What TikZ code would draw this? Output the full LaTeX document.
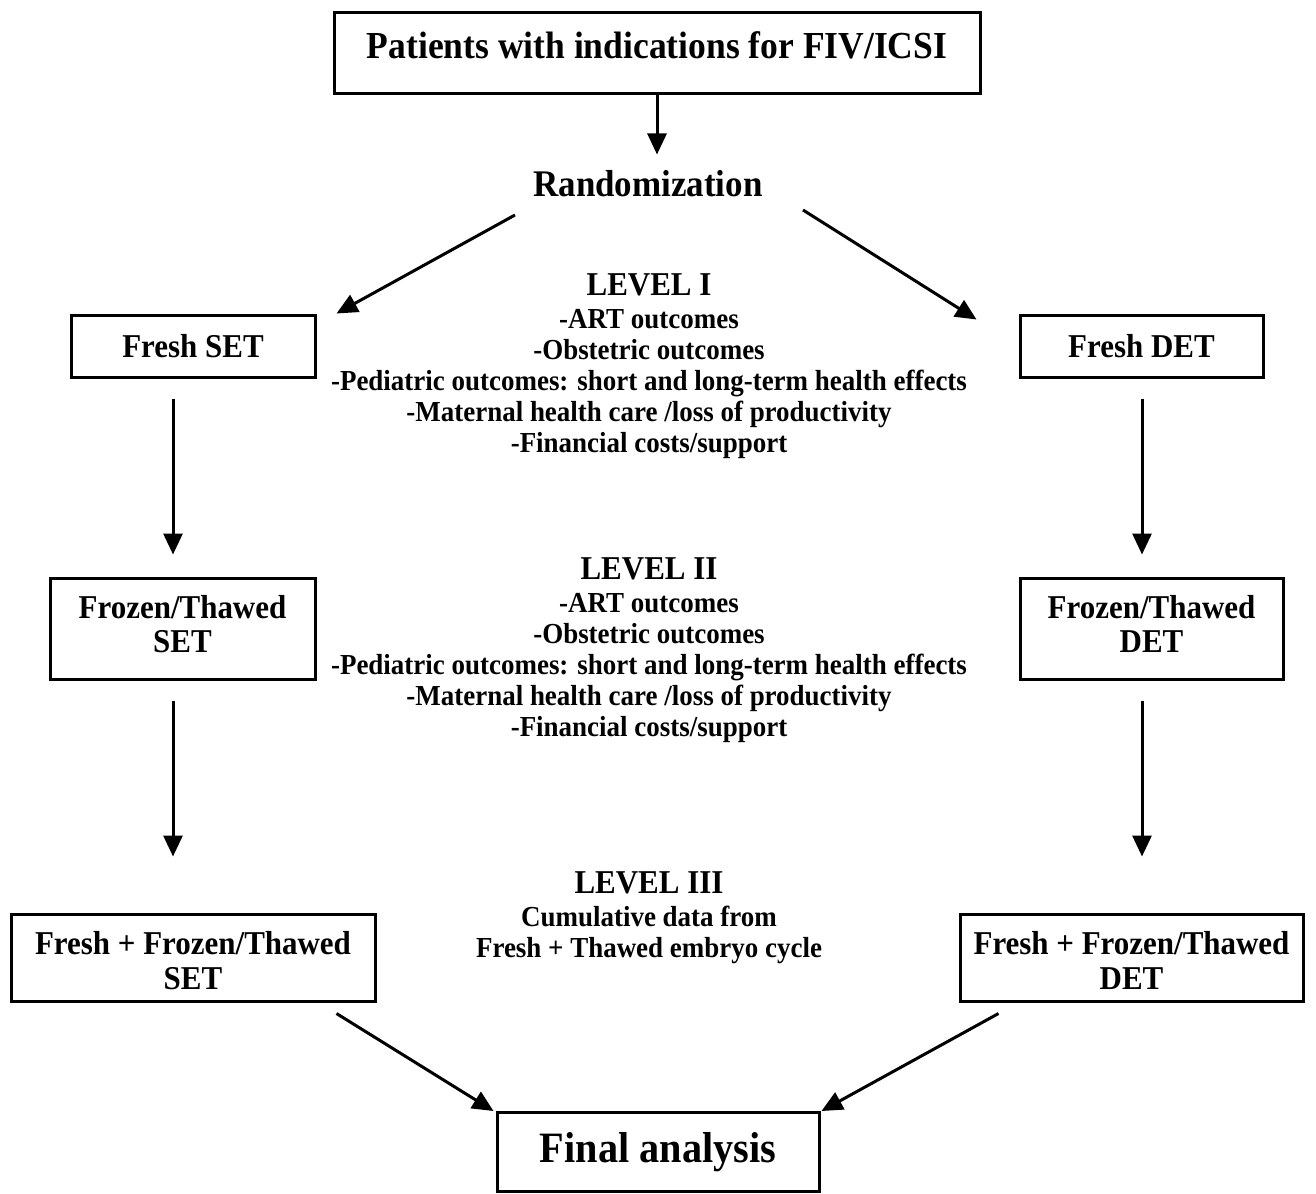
\documentclass[tikz,border=0pt]{standalone}
\usepackage{fontspec}
\setmainfont{Liberation Serif}[FakeStretch=0.93]
\usetikzlibrary{arrows.meta}
\tikzset{
  box/.style={draw=black, line width=3pt, rectangle, inner sep=0pt, align=center, font=\fontsize{33.3}{35}\selectfont\bfseries},
  txt/.style={inner sep=0pt, align=center},
  arr/.style={line width=3pt, -{Triangle[length=21pt,width=19pt]}},
}
\begin{document}
\begin{tikzpicture}[x=1pt,y=-1pt]
\useasboundingbox[fill=white] (0,0) rectangle (1316,1193);

\node[box, minimum width=646, minimum height=81] (top) at (657,53.5) {};
\node[txt, font=\fontsize{38.2}{40}\selectfont\bfseries] (toptxt) at (657,45) {Patients with indications for FIV/ICSI};
\node[txt, font=\fontsize{37.6}{40}\selectfont\bfseries] (rand) at (648,184) {Randomization};

\node[box, minimum width=244, minimum height=62] (fset) at (193,346) {Fresh SET};
\node[box, minimum width=243, minimum height=62] (fdet) at (1141.5,346) {Fresh DET};
\node[box, minimum width=265, minimum height=101] (ftset) at (182.5,628.5) {\begin{tabular}{@{}c@{}}Frozen/Thawed\\[-1pt]SET\end{tabular}};
\node[box, minimum width=263, minimum height=101] (ftdet) at (1151.5,628.5) {\begin{tabular}{@{}c@{}}Frozen/Thawed\\[-1pt]DET\end{tabular}};
\node[box, minimum width=364, minimum height=87] (ffset) at (193,957.5) {\raisebox{-7pt}[\height][\depth]{\begin{tabular}{@{}c@{}}Fresh + Frozen/Thawed\\SET\end{tabular}}};
\node[box, minimum width=343, minimum height=87] (ffdet) at (1131.5,957.5) {\raisebox{-7pt}[\height][\depth]{\begin{tabular}{@{}c@{}}Fresh + Frozen/Thawed\\DET\end{tabular}}};
\node[box, minimum width=322, minimum height=79, font=\fontsize{43.3}{44}\selectfont\bfseries] (final) at (658,1152) {Final analysis};

\node[txt, font=\fontsize{29}{31}\selectfont\bfseries] (lev1) at (649,366) {{\fontsize{33.3}{34}\selectfont LEVEL I}\\[2pt]-ART outcomes\\-Obstetric outcomes\\-Pediatric outcomes: short and long-term health effects\\-Maternal health care /loss of productivity\\-Financial costs/support};
\node[txt, font=\fontsize{29}{31}\selectfont\bfseries] (lev2) at (649,650) {{\fontsize{33.3}{34}\selectfont LEVEL II}\\[2pt]-ART outcomes\\-Obstetric outcomes\\-Pediatric outcomes: short and long-term health effects\\-Maternal health care /loss of productivity\\-Financial costs/support};
\node[txt, font=\fontsize{29}{31}\selectfont\bfseries] (lev3) at (649,918) {{\fontsize{33.3}{34}\selectfont LEVEL III}\\[2pt]Cumulative data from\\Fresh + Thawed embryo cycle};

\draw[arr] (top.south) -- ++(0,59);
\draw[arr] ([shift={(-133,31)}]rand.center) -- ([shift={(20,0)}]fset.north east);
\draw[arr] ([shift={(155,26)}]rand.center) -- ([shift={(-42,6)}]fdet.north west);

\draw[arr] ([shift={(-20,20)}]fset.south) -- ([shift={(-9.5,-22)}]ftset.north);
\draw[arr] ([shift={(0.5,20)}]fdet.south) -- ([shift={(-9.5,-22)}]ftdet.north);
\draw[arr] ([shift={(-9.5,20)}]ftset.south) -- ([shift={(-20,-56)}]ffset.north);
\draw[arr] ([shift={(-9.5,20)}]ftdet.south) -- ([shift={(10.5,-56)}]ffdet.north);

\draw[arr] ([shift={(-40,11)}]ffset.south east) -- ([shift={(-2,0)}]final.north west);
\draw[arr] ([shift={(40,11)}]ffdet.south west) -- ([shift={(1,0)}]final.north east);
\end{tikzpicture}
\end{document}
